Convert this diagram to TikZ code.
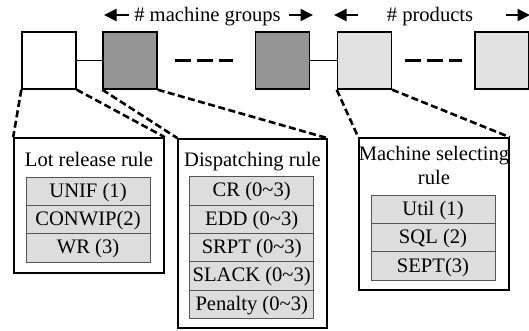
\documentclass[tikz,border=0pt]{standalone}
\usepackage{fontspec}
\setmainfont{Liberation Serif}
\usetikzlibrary{arrows.meta}
\definecolor{darkfill}{HTML}{959595}
\definecolor{lightfill}{HTML}{E2E2E2}
\definecolor{rowfill}{HTML}{DDDDDD}
\definecolor{rowline}{HTML}{555555}
\begin{document}
\begin{tikzpicture}[x=1pt,y=-1pt,
  every node/.style={font=\fontsize{20.6}{24}\selectfont, inner sep=0pt},
  stage/.style={draw, line width=1.4pt, minimum width=54pt, minimum height=57pt},
  rulebox/.style={draw, line width=1.6pt},
  rowbox/.style={draw=rowline, fill=rowfill, line width=0.8pt, minimum height=28.3pt,
    text height=15pt, text depth=3pt},
  link/.style={line width=1pt},
  gapdash/.style={line width=3pt, dash pattern=on 16pt off 6pt},
  zoomline/.style={line width=2.6pt, dash pattern=on 7pt off 3.5pt},
  countarrow/.style={line width=2pt, -{Triangle[length=12.5pt,width=12pt]}}]
\useasboundingbox (0,0) rectangle (529,330);

% top row of stages
\node[stage] (s1) at (49,60.5) {};
\node[stage, fill=darkfill] (s2) at (130,60.5) {};
\node[stage, fill=darkfill] (s3) at (282.6,60.5) {};
\node[stage, fill=lightfill] (s4) at (364.4,60.5) {};
\node[stage, fill=lightfill] (s5) at (502,60.5) {};
\draw[link] (s1.east) -- (s2.west);
\draw[link] (s3.east) -- (s4.west);
\draw[gapdash, shorten <=17pt, shorten >=22pt] (s2.east) -- (s3.west);
\draw[gapdash, shorten <=12.5pt, shorten >=12.5pt] (s4.east) -- (s5.west);

% counts above the stages
\node[anchor=base] (mg) at (207.5,21) {\# machine groups};
\node[anchor=base] (pr) at (430,21) {\# products};
\coordinate (mgA) at (128.5,15);
\coordinate (mgB) at (104,15);
\coordinate (mgC) at (289,15);
\coordinate (mgD) at (313,15);
\coordinate (prA) at (357.6,15);
\coordinate (prB) at (334,15);
\coordinate (prC) at (506,15);
\coordinate (prD) at (530,15);
\draw[countarrow] (mgA) -- (mgB);
\draw[countarrow] (mgC) -- (mgD);
\draw[countarrow] (prA) -- (prB);
\draw[countarrow] (prC) -- (prD);

% rule panels
\node[rulebox, minimum width=150pt, minimum height=135pt] (lot) at (89,205.5) {};
\node[rulebox, minimum width=148.5pt, minimum height=189pt] (disp) at (252.5,233.5) {};
\node[rulebox, minimum width=150pt, minimum height=152pt] (msel) at (434,214) {};

\node[anchor=base] (lotT) at (89,166.5) {Lot release rule};
\node[anchor=base] (dispT) at (252.5,166.7) {Dispatching rule};
\node[anchor=base] (mselT) at (434,160) {Machine selecting};
\node[anchor=base] (mselT2) at (434,184) {rule};

% rule options
\begin{scope}[every node/.append style={rowbox, minimum width=124pt}]
\node (l1) at (88,191.15) {UNIF (1)};
\node (l2) at (88,219.45) {CONWIP(2)};
\node (l3) at (88,247.75) {WR (3)};
\node (d1) at (251.7,190.85) {CR (0\char`\~3)};
\node (d2) at (251.7,219.15) {EDD (0\char`\~3)};
\node (d3) at (251.7,247.45) {SRPT (0\char`\~3)};
\node (d4) at (251.7,275.75) {SLACK (0\char`\~3)};
\node (d5) at (251.7,304.05) {Penalty (0\char`\~3)};
\node (m1) at (433,209.2) {Util (1)};
\node (m2) at (433,237.6) {SQL (2)};
\node (m3) at (433,266) {SEPT(3)};
\end{scope}

% zoom lines from stages to their rule panels
\draw[zoomline] (s1.south west) -- (lot.north west);
\draw[zoomline] (s1.south east) -- (lot.north east);
\draw[zoomline] (s2.south west) -- (disp.north west);
\draw[zoomline] (s2.south east) -- (disp.north east);
\draw[zoomline] (s4.south west) -- (msel.north west);
\draw[zoomline] (s4.south east) -- (msel.north east);
\end{tikzpicture}
\end{document}
